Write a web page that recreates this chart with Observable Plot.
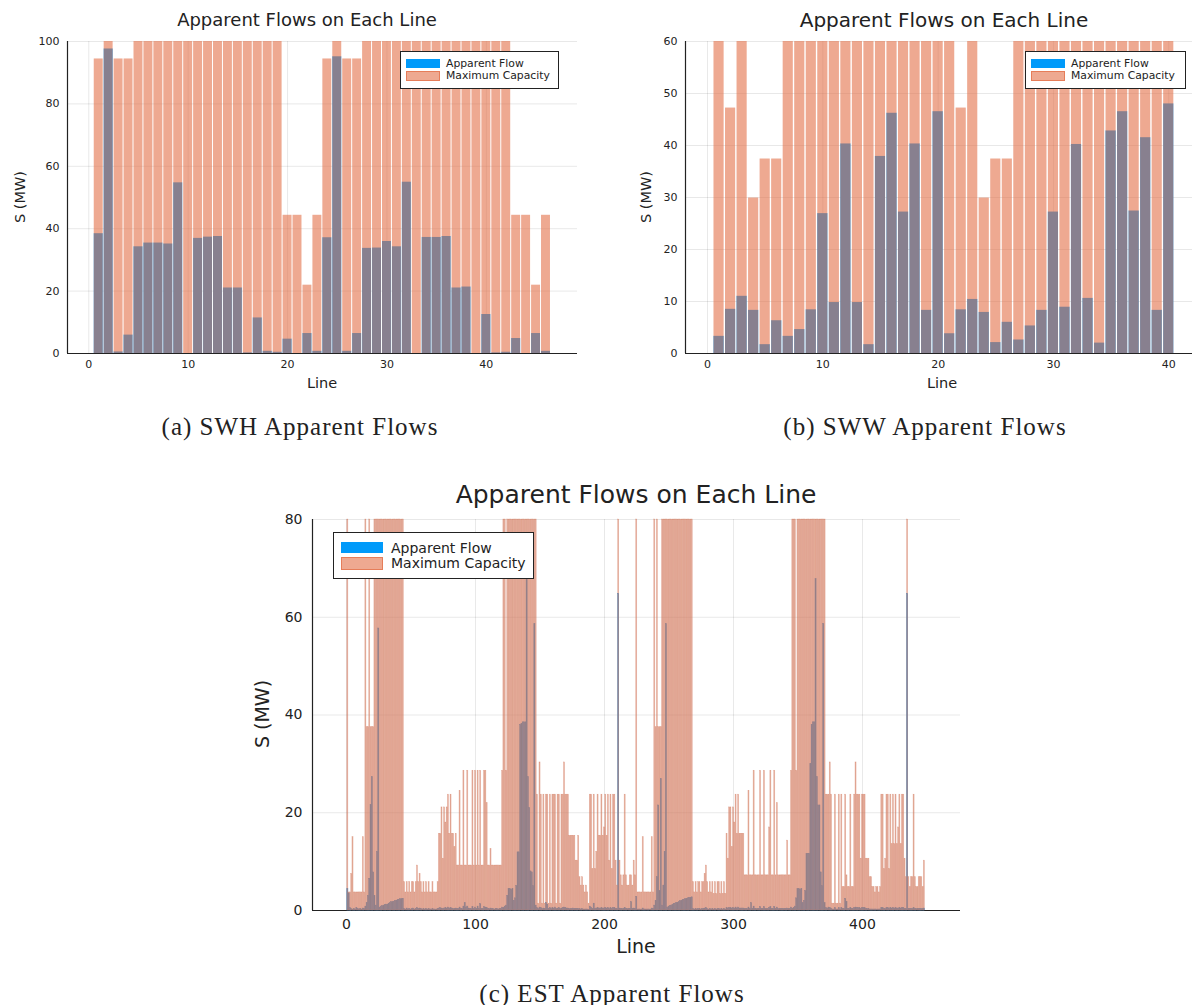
<!DOCTYPE html>
<html><head><meta charset="utf-8">
<script src="https://cdn.jsdelivr.net/npm/d3@7"></script>
<script src="https://cdn.jsdelivr.net/npm/@observablehq/plot@0.6"></script>
<style>
html,body{margin:0;padding:0;background:#fff;}
body{width:1192px;height:1005px;position:relative;overflow:hidden;font-family:"DejaVu Sans",sans-serif;color:#222;}
.abs{position:absolute;white-space:nowrap;line-height:1;}
.c{transform:translate(-50%,-50%);}
.r{transform:translate(-50%,-50%) rotate(-90deg);}
.box{position:absolute;border:1px solid #222;background:#fff;box-sizing:border-box;}
.sw{position:absolute;box-sizing:border-box;}
.serif{font-family:"Liberation Serif",serif;letter-spacing:1px;}
.plotwrap{position:absolute;}
</style></head><body>
<script>
// ---------- data ----------
const titleText = "Apparent Flows on Each Line";
const xLabel = "Line";
const yLabel = "S (MW)";
const legendLabels = ["Apparent Flow", "Maximum Capacity"];
const captions = ["(a) SWH Apparent Flows", "(b) SWW Apparent Flows", "(c) EST Apparent Flows"];

const swhXTicks = [0, 10, 20, 30, 40];
const swhYTicks = [0, 20, 40, 60, 80, 100];
const swwXTicks = [0, 10, 20, 30, 40];
const swwYTicks = [0, 10, 20, 30, 40, 50, 60];
const estXTicks = [0, 100, 200, 300, 400];
const estYTicks = [0, 20, 40, 60, 80];

// SWH, lines 1..46
const swhFlow = [38.4, 97.6, 0.5, 5.9, 34.2, 35.4, 35.4, 35.1, 54.7, 0,
  36.9, 37.3, 37.5, 21.0, 21.0, 0.2, 11.4, 0.7, 0.4, 4.6,
  0, 6.4, 0.7, 37.1, 95.1, 0.7, 6.4, 33.7, 33.8, 35.9,
  34.2, 54.9, 0, 37.2, 37.2, 37.5, 21.0, 21.3, 0, 12.5,
  0.2, 0.4, 4.8, 0, 6.4, 0.7];
const swhCap = [94.4, 150, 94.4, 94.4, 150, 150, 150, 150, 150, 150,
  150, 150, 150, 150, 150, 150, 150, 150, 150, 44.3,
  44.3, 21.9, 44.3, 94.4, 150, 94.4, 94.4, 150, 150, 150,
  150, 150, 150, 150, 150, 150, 150, 150, 150, 150,
  150, 150, 44.3, 44.3, 21.9, 44.3];

// SWW, lines 1..40
const swwFlow = [3.3, 8.5, 11.0, 8.3, 1.7, 6.3, 3.3, 4.6, 8.4, 26.9,
  9.8, 40.3, 9.8, 1.7, 37.9, 46.2, 27.2, 40.3, 8.3, 46.5,
  3.8, 8.4, 10.4, 7.9, 2.1, 6.0, 2.6, 5.3, 8.3, 27.2,
  8.9, 40.2, 10.6, 2.0, 42.8, 46.5, 27.4, 41.5, 8.3, 48.0];
const swwCap = [90, 47.2, 90, 29.9, 37.4, 37.4, 90, 90, 90, 90,
  90, 90, 90, 90, 90, 90, 90, 90, 90, 90,
  90, 47.2, 90, 29.9, 37.4, 37.4, 90, 90, 90, 90,
  90, 90, 90, 90, 90, 90, 90, 90, 90, 90];

// EST, lines 0..448
const estCap = [
  0, 120, 3.7, 3.7, 7.5, 15, 3.7, 3.7, 3.7, 3.7,
  3.7, 3.7, 3.7, 15, 3.7, 120, 37.5, 37.5, 120, 37.5,
  37.5, 37.5, 120, 120, 120, 120, 120, 120, 120, 120,
  120, 120, 120, 120, 120, 120, 120, 120, 120, 120,
  120, 120, 120, 120, 120, 5.8, 3.7, 5.8, 3.7, 5.8,
  3.7, 5.8, 5.8, 3.7, 5.8, 9.2, 5.8, 7.5, 5.8, 3.7,
  5.8, 3.7, 5.8, 3.7, 5.8, 3.7, 3.7, 5.8, 3.7, 3.7,
  3.7, 5.8, 15.7, 15.7, 21.1, 10.6, 21.1, 18, 21.1, 23.7,
  15.7, 23.7, 15.7, 15.7, 13, 15.7, 9.2, 9.2, 24.5, 9.2,
  9.2, 28.6, 9.2, 9.2, 28.6, 9.2, 9.2, 9.2, 28.6, 9.2,
  28.6, 9.2, 28.6, 9.2, 28.6, 9.2, 9.2, 28.6, 28.6, 22,
  9.2, 9.2, 12.6, 9.2, 9.2, 9.2, 9.2, 9.2, 9.2, 9.2,
  9.2, 28.6, 120, 120, 28.6, 120, 120, 120, 120, 120,
  120, 120, 120, 120, 120, 120, 120, 120, 120, 120,
  120, 120, 120, 120, 120, 120, 120, 120, 23.7, 1.4,
  30.3, 23.7, 1.4, 23.7, 1.4, 23.7, 23.7, 1.4, 23.7, 1.4,
  23.7, 23.7, 23.7, 1.4, 23.7, 23.7, 1.4, 23.7, 23.7, 30.3,
  23.7, 23.7, 23.7, 15.3, 15.3, 15.3, 15.3, 15.3, 10.2, 10.2,
  15.3, 6.8, 5.1, 6.8, 5.1, 3.7, 5.1, 3.7, 1.4, 23.7,
  23.7, 8.5, 23.7, 8.5, 12, 23.7, 15.3, 15.3, 23.7, 15.3,
  17, 23.7, 15.3, 23.7, 10.2, 23.7, 8.5, 23.7, 23.7, 10.2,
  5.1, 120, 10.2, 7.2, 5.1, 7.2, 23.7, 7.2, 5.1, 5.1,
  7.2, 7.2, 5.1, 10.2, 7.2, 120, 3.7, 3.7, 3.7, 3.7,
  15, 3.7, 3.7, 3.7, 3.7, 3.7, 3.7, 15, 3.7, 120,
  37.5, 120, 37.5, 37.5, 37.5, 120, 120, 120, 120, 120,
  120, 120, 120, 120, 120, 120, 120, 120, 120, 120,
  120, 120, 120, 120, 120, 120, 120, 120, 120, 5.8,
  3.7, 5.8, 3.7, 5.8, 5.8, 3.7, 5.8, 5.8, 7.5, 9.2,
  5.8, 3.7, 5.8, 3.7, 5.8, 3.4, 5.8, 3.4, 5.8, 5.8,
  3.4, 5.8, 3.4, 5.8, 3.4, 15.7, 10.6, 21.1, 21.1, 13,
  21.1, 18, 23.7, 15.7, 23.7, 15.7, 15.7, 15.7, 15.7, 7.2,
  7.2, 7.2, 24.5, 7.2, 7.2, 7.2, 28.6, 7.2, 7.2, 7.2,
  7.2, 28.6, 7.2, 7.2, 28.6, 7.2, 7.2, 7.2, 17, 28.6,
  7.2, 7.2, 28.6, 7.2, 22, 7.2, 7.2, 7.2, 7.2, 7.2,
  7.2, 7.2, 14.3, 7.2, 7.2, 28.6, 120, 120, 120, 28.6,
  120, 120, 120, 120, 120, 120, 120, 120, 120, 120,
  120, 120, 120, 120, 120, 120, 120, 120, 120, 120,
  120, 120, 23.7, 23.7, 23.7, 30.3, 23.7, 1.4, 1.4, 23.7,
  1.4, 1.4, 23.7, 1.4, 23.7, 4.8, 4.8, 23.7, 7.2, 4.8,
  4.8, 23.7, 4.8, 4.8, 23.7, 30.3, 23.7, 23.7, 23.7, 10.6,
  23.7, 23.7, 23.7, 10.6, 10.6, 10.6, 6.8, 6.8, 4.8, 4.8,
  3.7, 4.8, 4.8, 3.7, 4.8, 23.7, 23.7, 8.5, 10.6, 23.7,
  23.7, 8.5, 23.7, 13.6, 23.7, 13.6, 23.7, 13.6, 17, 23.7,
  13.6, 23.7, 23.7, 10.6, 6.8, 120, 6.8, 4.8, 6.8, 6.8,
  23.7, 6.8, 4.8, 4.8, 6.8, 6.8, 6.8, 4.8, 10.2];
const estFlow = [
  0, 4.4, 3.5, 0.5, 0.3, 0.2, 0.3, 0.2, 0.5, 0.3,
  0.2, 0.3, 0.2, 0.4, 0.3, 0.8, 1.5, 3.0, 6.5, 21.6,
  27.3, 7.8, 3.0, 1.0, 12.0, 57.7, 0.6, 0.8, 0.9, 1.0,
  1.1, 1.2, 1.2, 1.4, 1.5, 1.7, 1.7, 1.8, 2.0, 2.0,
  2.1, 2.2, 2.3, 2.3, 2.4, 0.3, 0.2, 0.4, 0.2, 0.3,
  0.2, 0.3, 0.4, 0.2, 0.3, 0.5, 0.3, 0.4, 0.3, 0.2,
  0.3, 0.2, 0.3, 0.2, 0.3, 0.2, 0.2, 0.3, 0.2, 0.2,
  0.2, 0.3, 0.4, 0.5, 0.4, 0.3, 0.4, 0.5, 0.4, 0.6,
  0.4, 0.5, 0.4, 0.3, 0.3, 0.4, 0.3, 0.3, 0.6, 0.3,
  0.3, 0.8, 1.5, 0.6, 0.8, 0.4, 0.3, 0.3, 0.7, 0.3,
  0.6, 0.3, 0.8, 0.3, 1.3, 0.3, 0.3, 0.7, 0.6, 0.5,
  0.3, 0.3, 0.4, 0.3, 0.3, 0.2, 0.3, 0.3, 0.2, 0.3,
  0.3, 0.6, 0.5, 0.8, 1.0, 3.0, 4.4, 4.4, 4.2, 4.4,
  2.0, 2.5, 5.0, 11.9, 11.9, 38.0, 38.2, 38.5, 38.5, 38.5,
  68.0, 27.3, 21.0, 8.0, 7.8, 5.0, 58.6, 1.0, 0.5, 0.3,
  0.6, 0.5, 0.3, 0.4, 0.3, 1.5, 1.2, 0.3, 0.5, 0.3,
  0.5, 0.4, 0.6, 0.3, 0.4, 0.5, 0.3, 0.4, 0.5, 0.6,
  0.5, 0.4, 0.4, 0.3, 0.3, 0.3, 0.4, 0.3, 0.3, 0.3,
  0.3, 0.3, 0.2, 0.3, 0.2, 0.2, 0.2, 0.2, 0.1, 0.8,
  0.6, 0.3, 1.4, 0.3, 0.4, 0.5, 0.4, 0.4, 0.5, 0.4,
  0.4, 0.5, 0.4, 0.5, 0.3, 0.5, 0.3, 0.5, 0.5, 0.3,
  0.3, 64.8, 0.4, 0.3, 0.3, 0.3, 0.5, 0.3, 0.3, 0.3,
  0.3, 1.7, 0.3, 0.4, 0.3, 2.8, 0.2, 0.2, 0.2, 0.2,
  0.4, 0.2, 0.2, 0.2, 0.2, 0.2, 0.2, 0.4, 0.3, 1.0,
  2.0, 6.8, 21.5, 4.0, 26.9, 1.0, 5.1, 12.0, 58.6, 0.6,
  0.8, 0.9, 1.0, 1.1, 1.3, 1.4, 1.5, 1.6, 1.7, 1.9,
  2.0, 2.1, 2.2, 2.3, 2.4, 2.5, 2.6, 2.6, 2.7, 0.3,
  0.2, 0.3, 0.2, 0.3, 0.3, 0.2, 0.3, 0.3, 0.4, 0.5,
  0.3, 0.2, 0.3, 0.2, 0.3, 0.2, 0.3, 0.2, 0.3, 0.3,
  0.2, 0.3, 0.2, 0.3, 0.2, 0.5, 0.4, 0.5, 0.5, 0.4,
  0.5, 0.4, 0.6, 0.4, 0.6, 0.4, 0.4, 0.4, 0.4, 0.3,
  0.3, 0.3, 0.6, 0.3, 1.5, 0.3, 0.8, 0.3, 0.3, 0.3,
  0.3, 0.7, 0.3, 0.3, 0.7, 0.3, 0.3, 0.3, 0.5, 0.7,
  0.3, 0.3, 0.7, 0.3, 0.6, 0.3, 0.3, 0.3, 0.3, 0.3,
  0.3, 0.3, 0.4, 0.3, 0.3, 0.6, 0.3, 0.5, 0.8, 2.5,
  4.4, 4.4, 4.2, 4.4, 1.5, 2.0, 4.0, 11.6, 11.6, 11.6,
  30.0, 38.0, 38.5, 38.5, 67.8, 27.3, 21.5, 21.5, 7.8, 5.0,
  58.6, 1.5, 0.5, 0.4, 0.6, 0.5, 0.4, 0.2, 0.2, 0.5,
  0.2, 0.2, 0.5, 0.2, 0.5, 0.3, 0.3, 2.4, 1.8, 0.3,
  0.3, 0.5, 0.3, 0.3, 0.5, 0.6, 0.5, 0.5, 0.5, 0.3,
  0.5, 0.5, 0.5, 0.3, 0.3, 0.3, 0.2, 0.2, 0.2, 0.2,
  0.2, 0.2, 0.2, 0.2, 0.2, 0.5, 0.5, 0.3, 0.3, 0.5,
  0.5, 0.3, 0.5, 0.4, 0.5, 0.4, 0.5, 0.4, 0.4, 0.5,
  0.4, 0.5, 0.5, 0.3, 0.3, 64.8, 0.3, 0.3, 0.3, 0.3,
  0.5, 0.3, 0.3, 0.3, 0.3, 0.3, 0.3, 0.3, 0.4];

// ---------- drawing ----------
const BLUE = "#009AFA", ORANGE = "#E36F47";

function rows(arr, start) {
  return arr.map((v, i) => ({line: i + start, v})).filter(d => d.v > 0);
}

function chart(cfg) {
  const flows = rows(cfg.flow, cfg.start);
  const caps = rows(cfg.cap, cfg.start);
  const hw = cfg.hw;
  const capFill = cfg.capFill || ORANGE;
  const flowFill = cfg.flowFill || BLUE;
  const svg = Plot.plot({
    width: cfg.width, height: cfg.height,
    marginLeft: cfg.ml, marginRight: cfg.mr, marginTop: cfg.mt, marginBottom: cfg.mb,
    x: {domain: cfg.xDomain, label: null},
    y: {domain: cfg.yDomain, label: null, clamp: true},
    style: {fontFamily: "DejaVu Sans", background: "transparent", color: "#222", overflow: "visible"},
    marks: [
      Plot.gridX(cfg.xTicks, {stroke: "#000", strokeOpacity: 0.09, strokeWidth: 1}),
      Plot.gridY(cfg.yTicks.filter(t => t > 0), {stroke: "#000", strokeOpacity: 0.09, strokeWidth: 1}),
      Plot.axisX(cfg.xTicks, {tickSize: 0, tickPadding: cfg.xPad, fontSize: cfg.tickFont, label: null, tickFormat: d => String(d)}),
      Plot.axisY(cfg.yTicks, {tickSize: 0, tickPadding: cfg.yPad, fontSize: cfg.tickFont, label: null, tickFormat: d => String(d)}),
      Plot.ruleX([cfg.xDomain[0]], {stroke: "#222", strokeWidth: 1.2}),
      Plot.ruleY([0], {stroke: "#222", strokeWidth: 1.2}),
      Plot.rect(flows, {x1: d => d.line - hw, x2: d => d.line + hw, y1: d => 0, y2: "v",
        fill: flowFill, stroke: cfg.stroke ? flowFill : null, strokeWidth: cfg.stroke || 0}),
      Plot.rect(caps, {x1: d => d.line - hw, x2: d => d.line + hw, y1: d => 0, y2: "v",
        fill: capFill, fillOpacity: 0.6, stroke: cfg.stroke ? capFill : null, strokeOpacity: 0.5, strokeWidth: cfg.stroke || 0})
    ]
  });
  const wrap = document.createElement("div");
  wrap.className = "plotwrap";
  wrap.style.left = cfg.left + "px";
  wrap.style.top = cfg.top + "px";
  wrap.appendChild(svg);
  document.body.appendChild(wrap);
}

function text(str, x, y, size, cls, extra) {
  const d = document.createElement("div");
  d.className = "abs " + cls;
  d.textContent = str;
  d.style.left = x + "px";
  d.style.top = y + "px";
  d.style.fontSize = size + "px";
  if (extra) Object.assign(d.style, extra);
  document.body.appendChild(d);
}

function legend(L) {
  const b = document.createElement("div");
  b.className = "box";
  Object.assign(b.style, {left: L.x + "px", top: L.y + "px", width: L.w + "px", height: L.h + "px"});
  document.body.appendChild(b);
  const colors = [
    {bg: BLUE, border: "none"},
    {bg: "rgba(227,111,71,0.6)", border: "1px solid rgba(227,111,71,0.75)"}
  ];
  legendLabels.forEach((lab, i) => {
    const s = document.createElement("div");
    s.className = "sw";
    Object.assign(s.style, {left: L.sx + "px", top: L.sy[i] + "px", width: L.sw + "px", height: L.sh[i] + "px",
      background: colors[i].bg, border: colors[i].border});
    document.body.appendChild(s);
    text(lab, L.tx, L.ty[i], L.fs, "", {transform: "translateY(-50%)"});
  });
}

// (a) SWH
chart({flow: swhFlow, cap: swhCap, start: 1, hw: 0.45,
  left: 0, top: 0, width: 600, height: 400, ml: 67, mr: 23, mt: 41, mb: 47,
  xDomain: [-2.14, 49.17], yDomain: [0, 100], xTicks: swhXTicks, yTicks: swhYTicks,
  xPad: 7, yPad: 8, tickFont: 11});
// (b) SWW
chart({flow: swwFlow, cap: swwCap, start: 1, hw: 0.44,
  left: 615, top: 0, width: 577, height: 400, ml: 70, mr: 0, mt: 41, mb: 47,
  xDomain: [-1.91, 42.06], yDomain: [0, 60], xTicks: swwXTicks, yTicks: swwYTicks,
  xPad: 7, yPad: 8, tickFont: 11});
// (c) EST
chart({flow: estFlow, cap: estCap, start: 0, hw: 0.42, stroke: 0.45,
  capFill: "#D47A5D", flowFill: "#1A8FE0",
  left: 240, top: 470, width: 740, height: 480, ml: 72, mr: 20, mt: 49, mb: 40,
  xDomain: [-26.4, 476], yDomain: [0, 80], xTicks: estXTicks, yTicks: estYTicks,
  xPad: 9, yPad: 10, tickFont: 14});

// titles & axis labels
text(titleText, 307, 20, 18, "c");
text(titleText, 944, 20, 20, "c");
text(titleText, 636, 494, 25, "c");
text(xLabel, 322, 383, 14.5, "c");
text(xLabel, 942, 383, 14.5, "c");
text(xLabel, 636, 946, 19, "c");
text(yLabel, 20, 197, 14.5, "r");
text(yLabel, 646, 197, 14.5, "r");
text(yLabel, 262, 714, 19, "r");

// legends
legend({x: 400, y: 51, w: 159, h: 38, sx: 406, sw: 34, sy: [59, 71], sh: [9, 10], tx: 446, ty: [64, 76], fs: 10.8});
legend({x: 1025, y: 51, w: 161, h: 38, sx: 1031, sw: 34, sy: [59, 71], sh: [9, 10], tx: 1071, ty: [64, 76], fs: 10.8});
legend({x: 333, y: 532, w: 201, h: 47, sx: 341, sw: 42, sy: [542, 557], sh: [11, 13], tx: 391, ty: [548, 563], fs: 14});

// captions
text(captions[0], 300, 426, 25, "c serif");
text(captions[1], 925, 426, 25, "c serif");
text(captions[2], 612, 993, 25, "c serif");
</script>
</body></html>
